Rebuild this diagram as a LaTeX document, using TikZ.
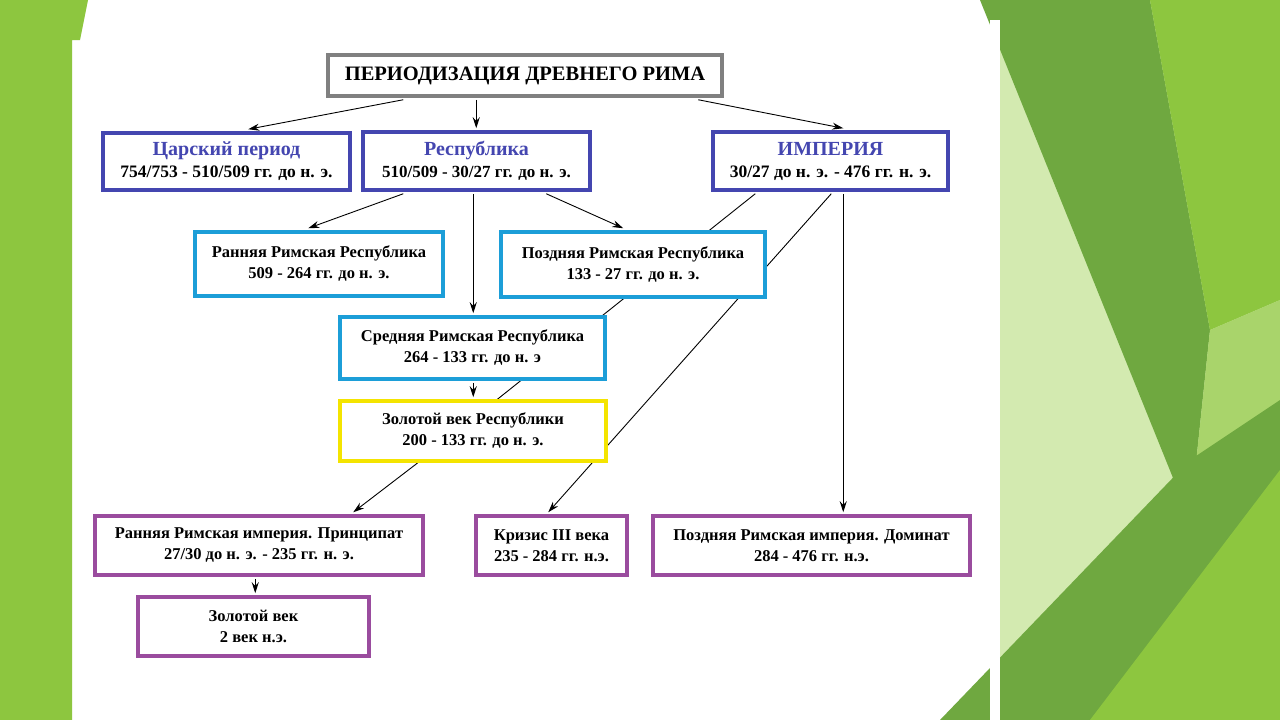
\documentclass[tikz,border=0pt]{standalone}
\usepackage{fontspec}
\setmainfont{Liberation Serif}
\usetikzlibrary{calc,arrows.meta,backgrounds}
\definecolor{gA}{HTML}{8DC63F}
\definecolor{gB}{HTML}{6FA840}
\definecolor{gC}{HTML}{A9D46B}
\definecolor{gD}{HTML}{D3EAB0}
\definecolor{bx}{HTML}{4446B0}
\definecolor{cy}{HTML}{1C9ED8}
\definecolor{yl}{HTML}{F4E400}
\definecolor{pu}{HTML}{9A4C9E}
\definecolor{gr}{HTML}{808080}
\tikzset{
 box/.style={draw=#1,line width=3.5pt,fill=white,align=center,inner sep=0pt,font=\bfseries\fontsize{16.5}{21}\selectfont},
 con/.style={line width=0.9pt,-{Stealth[length=11pt,width=7pt]}},
 lin/.style={line width=0.9pt},
 hd/.style={}
}
\newcommand{\hdr}[1]{{\color{bx}\fontsize{20}{25}\selectfont #1}}
\begin{document}
\begin{tikzpicture}[x=1pt,y=-1pt]
\useasboundingbox (0,0) rectangle (1280,720);
% nodes
\node[box=gr,minimum width=394,minimum height=41,font=\bfseries\fontsize{20.5}{22}\selectfont] (title) at (525,75.5) {ПЕРИОДИЗАЦИЯ ДРЕВНЕГО РИМА};
\node[box=bx,minimum width=247,minimum height=57,font=\bfseries\fontsize{17.5}{22}\selectfont] (tsar) at (226.5,161.5) {\hdr{Царский период}\\754/753 - 510/509 гг. до н. э.};
\node[box=bx,minimum width=227,minimum height=58,font=\bfseries\fontsize{17}{22}\selectfont] (rep) at (476.5,161) {\hdr{Республика}\\510/509 - 30/27 гг. до н. э.};
\node[box=bx,minimum width=235,minimum height=58,font=\bfseries\fontsize{17.5}{22}\selectfont] (imp) at (830.5,161) {\hdr{ИМПЕРИЯ}\\30/27 до н. э. - 476 гг. н. э.};
\node[box=cy,minimum width=248,minimum height=64] (erep) at (319,264) {Ранняя Римская Республика\\509 - 264 гг. до н. э.};
\node[box=cy,minimum width=264,minimum height=65] (lrep) at (633,264.5) {Поздняя Римская Республика\\133 - 27 гг. до н. э.};
\node[box=cy,minimum width=265,minimum height=62] (mrep) at (472.5,348) {Средняя Римская Республика\\264 - 133 гг. до н. э};
\node[box=yl,minimum width=266,minimum height=60] (grep) at (473,431) {Золотой век Республики\\200 - 133 гг. до н. э.};
\node[box=pu,minimum width=328,minimum height=59] (eemp) at (259,545.5) {Ранняя Римская империя. Принципат\\27/30 до н. э. - 235 гг. н. э.};
\node[box=pu,minimum width=151,minimum height=59] (cris) at (551.5,545.5) {Кризис III века\\235 - 284 гг. н.э.};
\node[box=pu,minimum width=317,minimum height=59] (lemp) at (811.5,545.5) {Поздняя Римская империя. Доминат\\284 - 476 гг. н.э.};
\node[box=pu,minimum width=231,minimum height=59] (gold) at (253.5,626.5) {Золотой век\\2 век н.э.};
% connectors
\draw[con] ($(title.south west)+(77,2)$) -- ($(tsar.north west)+(147,-2)$);
\draw[con] ($(title.south west)+(150,2)$) -- ($(rep.north west)+(115,-2)$);
\draw[con] ($(title.south west)+(372,2)$) -- ($(imp.north west)+(132,-2)$);
\draw[con] ($(rep.south west)+(42,2)$) -- ($(erep.north west)+(115,-2)$);
\draw[con] ($(rep.south west)+(185,2)$) -- ($(lrep.north west)+(124,-2)$);
\draw[con] ($(rep.south west)+(112,2)$) -- ($(mrep.north west)+(135,-2)$);
\draw[con] ($(mrep.south west)+(135,2)$) -- ($(grep.north west)+(135,-2)$);
\draw[con] ($(grep.south west)+(77,2)$) -- ($(eemp.north west)+(260,-2)$);
\draw[con] ($(eemp.south west)+(162,2)$) -- ($(gold.north west)+(119,-2)$);
\draw[con] ($(imp.south west)+(132,2)$) -- ($(lemp.north west)+(192,-2)$);
\begin{scope}[on background layer]
\fill[white] (0,0) rectangle (1280,720);
\fill[gA] (0,0) -- (88,0) -- (80,40) -- (72,40) -- (72,720) -- (0,720) -- cycle;
\fill[gD] (990,0) -- (1280,0) -- (1280,720) -- (990,720) -- cycle;
\fill[gB] (980,0) -- (1150,0) -- (1210,330) -- (1190,520) -- cycle;
\fill[gA] (1150,0) -- (1280,0) -- (1280,300) -- (1210,330) -- cycle;
\fill[gC] (1280,300) -- (1210,330) -- (1190,520) -- (1280,720) -- cycle;
\fill[gB] (940,720) -- (1190,460) -- (1280,400) -- (1280,720) -- cycle;
\fill[gA] (1090,720) -- (1280,470) -- (1280,720) -- cycle;
\fill[white] (990,20) -- (1000,20) -- (1000,720) -- (990,720) -- cycle;
\draw[lin] ($(imp.south west)+(44,2)$) -- ($(grep.south west)+(77,2)$);
\draw[con] ($(imp.south west)+(120,2)$) -- ($(cris.north west)+(74,-2)$);
\end{scope}
\end{tikzpicture}
\end{document}
